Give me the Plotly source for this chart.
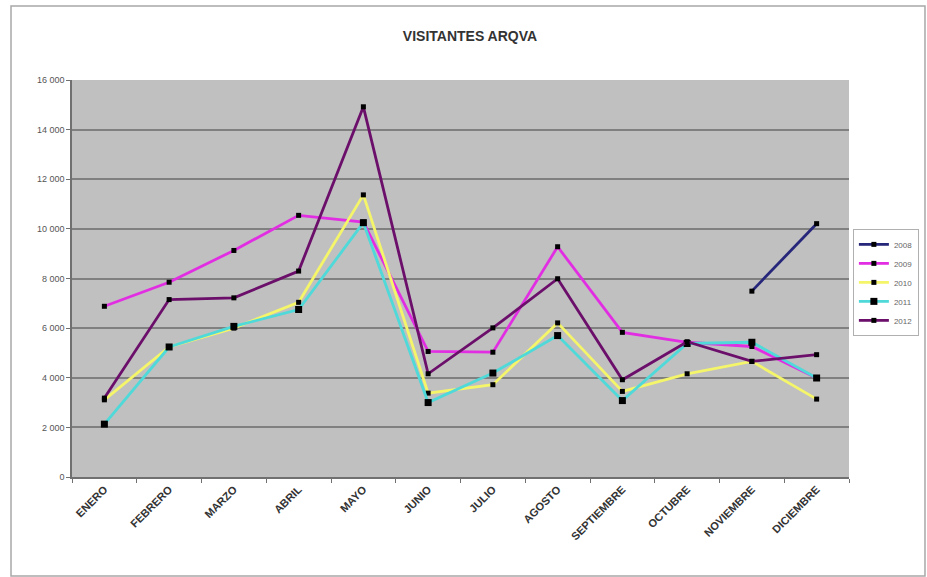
import plotly.graph_objects as go

months = ["ENERO", "FEBRERO", "MARZO", "ABRIL", "MAYO", "JUNIO", "JULIO",
          "AGOSTO", "SEPTIEMBRE", "OCTUBRE", "NOVIEMBRE", "DICIEMBRE"]

v2008 = [None, None, None, None, None, None, None, None, None, None, 7490, 10210]
v2009 = [6880, 7850, 9130, 10545, 10275, 5060, 5030, 9280, 5830, 5430, 5260, 3990]
v2010 = [3110, 5240, 6000, 7040, 11370, 3380, 3720, 6210, 3450, 4160, 4660, 3140]
v2011 = [2130, 5240, 6070, 6750, 10250, 3000, 4190, 5700, 3080, 5380, 5430, 3990]
v2012 = [3180, 7150, 7220, 8300, 14920, 4160, 6010, 7990, 3920, 5450, 4660, 4930]

series = [
    ("2008", v2008, "#26267A", 5),
    ("2009", v2009, "#E22EE2", 5),
    ("2010", v2010, "#F5F56A", 5),
    ("2011", v2011, "#4FD9D9", 7),
    ("2012", v2012, "#6B0F6B", 5),
]

fig = go.Figure()
for name, vals, color, msize in series:
    fig.add_trace(go.Scatter(
        x=months, y=vals, name=name, mode="lines+markers",
        line=dict(color=color, width=2.8),
        marker=dict(color="black", size=msize, symbol="square"),
        connectgaps=False,
    ))

fig.update_layout(
    width=927, height=577,
    margin=dict(l=72, r=78, t=80, b=100, autoexpand=False),
    paper_bgcolor="white",
    plot_bgcolor="#C0C0C0",
    separators=", ",
    font=dict(family="Liberation Sans, Arial, sans-serif", color="#333333"),
    title=dict(text="<b>VISITANTES ARQVA</b>", x=0.507, xanchor="center",
               y=0.937, yanchor="middle", font=dict(size=14, color="#333333")),
    showlegend=True,
    legend=dict(x=1.005, y=0.625, xanchor="left", yanchor="top",
                bgcolor="white", bordercolor="#B0B0B0", borderwidth=1,
                font=dict(size=8, color="#666666"), tracegroupgap=0,
                itemwidth=30),
    shapes=[dict(type="rect", xref="paper", yref="paper",
                 x0=-0.0785, x1=1.0978, y0=-0.2494, y1=1.1864,
                 line=dict(color="#A8A8A8", width=1.5), layer="below")],
)

fig.update_xaxes(
    type="category", tickangle=-45, showgrid=False,
    showline=True, linecolor="#707070", linewidth=1.5,
    ticks="outside", ticklen=4, tickcolor="#707070",
    tickson="boundaries",
    tickfont=dict(size=11, color="#333333", weight="bold",
                  family="Liberation Sans, Arial, sans-serif"),
    range=[-0.5, 11.5],
)
fig.update_yaxes(
    range=[0, 16000], dtick=2000, tickformat=",d",
    showgrid=True, gridcolor="#808080", gridwidth=1.5,
    showline=True, linecolor="#707070", linewidth=1.5,
    ticks="outside", ticklen=4, tickcolor="#707070",
    tickfont=dict(size=9, color="#555555"),
    zeroline=False,
)

fig.write_html("out.html", config={"displayModeBar": False},
               post_script="document.body.style.margin='0px';document.body.style.overflow='hidden';")
